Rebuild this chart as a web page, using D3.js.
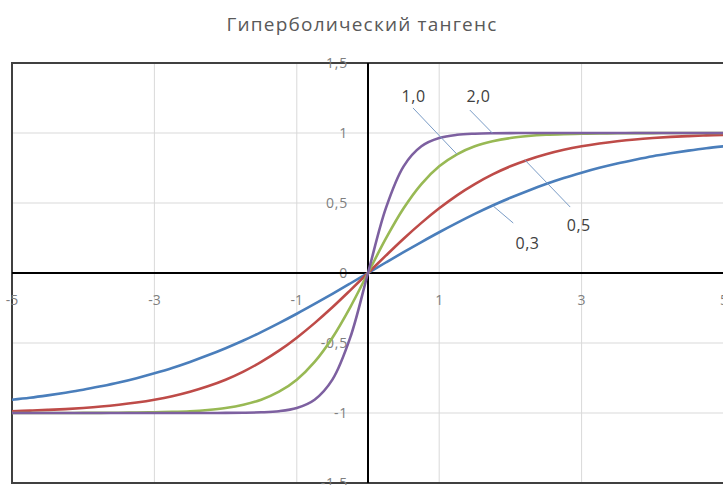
<!DOCTYPE html>
<html>
<head>
<meta charset="utf-8">
<script src="https://cdn.jsdelivr.net/npm/d3@7"></script>
<style>
  body { margin: 0; background: #fff; }
  svg { display: block; font-family: "Open Sans", sans-serif; }
</style>
</head>
<body>
<div id="chart"></div>
<script>
const width = 723, height = 485;

const title = "Гиперболический тангенс";

// x grid, step 0.25 from -5 to 5
const xs = d3.range(-20, 21).map(k => k * 0.25);

// values
const y03 = [-0.905,-0.891,-0.874,-0.855,-0.834,-0.809,-0.782,-0.751,-0.716,-0.678,-0.635,-0.588,-0.537,-0.482,-0.422,-0.358,-0.291,-0.221,-0.149,-0.075,
  0,
  0.075,0.149,0.221,0.291,0.358,0.422,0.482,0.537,0.588,0.635,0.678,0.716,0.751,0.782,0.809,0.834,0.855,0.874,0.891,0.905];
const y05 = [-0.987,-0.983,-0.978,-0.972,-0.964,-0.954,-0.941,-0.925,-0.905,-0.880,-0.848,-0.809,-0.762,-0.704,-0.635,-0.555,-0.462,-0.358,-0.245,-0.124,
  0,
  0.124,0.245,0.358,0.462,0.555,0.635,0.704,0.762,0.809,0.848,0.880,0.905,0.925,0.941,0.954,0.964,0.972,0.978,0.983,0.987];
const y10 = [-1,-1,-1,-1,-0.999,-0.999,-0.998,-0.997,-0.995,-0.992,-0.987,-0.978,-0.964,-0.941,-0.905,-0.848,-0.762,-0.635,-0.462,-0.245,
  0,
  0.245,0.462,0.635,0.762,0.848,0.905,0.941,0.964,0.978,0.987,0.992,0.995,0.997,0.998,0.999,0.999,1,1,1,1];
const y20 = [-1,-1,-1,-1,-1,-1,-1,-1,-1,-1,-1,-1,-0.999,-0.998,-0.995,-0.987,-0.964,-0.905,-0.762,-0.462,
  0,
  0.462,0.762,0.905,0.964,0.987,0.995,0.998,0.999,1,1,1,1,1,1,1,1,1,1,1,1];

const seriesNames = ["0,3", "0,5", "1,0", "2,0"];
const seriesValues = [y03, y05, y10, y20];
const colors = ["#4a7ebb", "#be4b48", "#98b954", "#7d60a0"];

const xTicks = [-5, -3, -1, 1, 3, 5];
const yTicks = [-1.5, -1, -0.5, 0, 0.5, 1, 1.5];

// data labels: text baseline position, leader start, and x of the point it marks
const labelPos = [[2.24, 0.17], [2.96, 0.30], [0.64, 1.22], [1.55, 1.22]];
const leaderStart = [[2.04, 0.357], [2.84, 0.471], [0.632, 1.179], [1.43, 1.164]];
const labelTarget = [1.75, 2.2, 1.25, 1.75];

const x = d3.scaleLinear().domain([-5, 5]).range([12, 724]);
const y = d3.scaleLinear().domain([-1.5, 1.5]).range([483, 63]);

const svg = d3.select("#chart").append("svg")
  .attr("width", width)
  .attr("height", height);

svg.append("text")
  .attr("x", 362)
  .attr("y", 31)
  .attr("text-anchor", "middle")
  .attr("font-size", 19)
  .attr("letter-spacing", 1.2)
  .attr("fill", "#595959")
  .text(title);

// grid
svg.append("g")
  .selectAll("line")
  .data(yTicks)
  .enter().append("line")
  .attr("x1", x(-5)).attr("x2", x(5))
  .attr("y1", d => y(d)).attr("y2", d => y(d))
  .attr("stroke", "#d9d9d9");

svg.append("g")
  .selectAll("line")
  .data(xTicks)
  .enter().append("line")
  .attr("x1", d => x(d)).attr("x2", d => x(d))
  .attr("y1", y(1.5)).attr("y2", y(-1.5))
  .attr("stroke", "#d9d9d9");

// plot border
svg.append("rect")
  .attr("x", x(-5))
  .attr("y", y(1.5))
  .attr("width", x(5) - x(-5))
  .attr("height", y(-1.5) - y(1.5))
  .attr("fill", "none")
  .attr("stroke", "#404040")
  .attr("stroke-width", 2);

// tick labels
svg.append("g")
  .selectAll("text")
  .data(yTicks)
  .enter().append("text")
  .attr("x", x(0) - 20)
  .attr("y", d => y(d) + 5)
  .attr("text-anchor", "end")
  .attr("font-size", 14)
  .attr("letter-spacing", 0.8)
  .attr("fill", "#7f7f7f")
  .text(d => String(d).replace(".", ","));

svg.append("g")
  .selectAll("text")
  .data(xTicks)
  .enter().append("text")
  .attr("x", d => x(d))
  .attr("y", y(0) + 32)
  .attr("text-anchor", "middle")
  .attr("font-size", 14)
  .attr("fill", "#7f7f7f")
  .text(d => d);

// axes
svg.append("line")
  .attr("x1", x(-5)).attr("x2", x(5))
  .attr("y1", y(0)).attr("y2", y(0))
  .attr("stroke", "#000").attr("stroke-width", 2);
svg.append("line")
  .attr("x1", x(0)).attr("x2", x(0))
  .attr("y1", y(1.5)).attr("y2", y(-1.5))
  .attr("stroke", "#000").attr("stroke-width", 2);

// curves
const line = d3.line()
  .x((d, i) => x(xs[i]))
  .y(d => y(d))
  .curve(d3.curveCatmullRom.alpha(0.5));

svg.append("g")
  .selectAll("path")
  .data(seriesValues)
  .enter().append("path")
  .attr("d", d => line(d))
  .attr("fill", "none")
  .attr("stroke", (d, i) => colors[i])
  .attr("stroke-width", 2.6);

// labels with leader lines
const valueAt = (vals, xv) => vals[Math.round((xv + 5) / 0.25)];

const lbl = svg.append("g");
seriesNames.forEach((t, i) => {
  const tx = labelTarget[i];
  const ty = valueAt(seriesValues[i], tx);
  lbl.append("line")
    .attr("x1", x(leaderStart[i][0]))
    .attr("y1", y(leaderStart[i][1]))
    .attr("x2", x(tx))
    .attr("y2", y(ty))
    .attr("stroke", "#7a9cc6")
    .attr("stroke-width", 1);
  lbl.append("text")
    .attr("x", x(labelPos[i][0]))
    .attr("y", y(labelPos[i][1]))
    .attr("text-anchor", "middle")
    .attr("font-size", 16)
    .attr("letter-spacing", 0.5)
    .attr("fill", "#404040")
    .text(t);
});
</script>
</body>
</html>
